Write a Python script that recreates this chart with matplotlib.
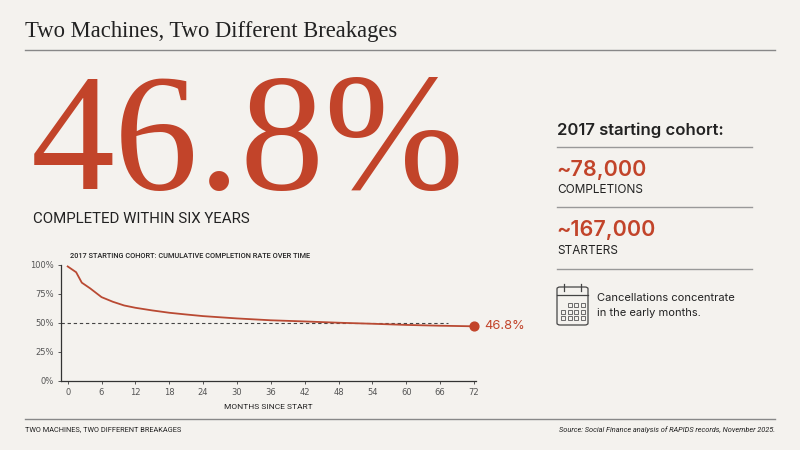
import matplotlib.pyplot as plt
from matplotlib.patches import FancyBboxPatch, Rectangle
from matplotlib.lines import Line2D

months = [0, 1.5, 2.5, 4, 6, 8, 10, 12, 15, 18, 21, 24, 30, 36, 42, 48, 54, 60, 66, 72]
rate = [98.5, 93.5, 84.5, 79.5, 72, 68, 64.8, 62.8, 60.5, 58.5, 57, 55.6, 53.6, 52, 51, 49.9, 49, 48, 47.3, 46.8]
xticks = list(range(0, 73, 6))
yticks = [0, 25, 50, 75, 100]
headline = "46.8%"
completions = "~78,000"
starters = "~167,000"

bg = "#f4f2ee"
red = "#c2442a"
line_red = "#b94a33"
dark = "#222222"
grey = "#555555"

W, H = 800, 450


def px(x, y):
    return x / W, 1 - y / H


fig = plt.figure(figsize=(8, 4.5), dpi=100, facecolor=bg)

# header
fig.text(*px(25, 32), "Two Machines, Two Different Breakages", family="Liberation Serif",
         fontsize=16.3, color=dark, va="center", ha="left")
fig.add_artist(Line2D([25 / W, 775 / W], [1 - 50 / H] * 2, color="#888888", lw=1))

# big number
fig.text(*px(31, 189), headline, family="Liberation Serif", fontsize=121, color=red,
         va="baseline", ha="left")
fig.text(*px(33, 219), "COMPLETED WITHIN SIX YEARS", family="Roboto", fontsize=10.8,
         color=dark, va="center", ha="left")

# right panel
fig.text(*px(557, 130), "2017 starting cohort:", family="Inter", fontsize=12, weight="semibold",
         color=dark, va="center", ha="left")
for yy in [147, 207, 269]:
    fig.add_artist(Line2D([557 / W, 752 / W], [1 - yy / H] * 2, color="#999999", lw=1))
fig.text(*px(556, 170), completions, family="Inter", fontsize=15.5, weight="semibold",
         color=red, va="center", ha="left")
fig.text(*px(557, 190), "COMPLETIONS", family="Inter", fontsize=8.5, color=dark,
         va="center", ha="left")
fig.text(*px(556, 230), starters, family="Inter", fontsize=15.5, weight="semibold",
         color=red, va="center", ha="left")
fig.text(*px(557, 251), "STARTERS", family="Inter", fontsize=8.5, color=dark,
         va="center", ha="left")
fig.text(*px(597, 298), "Cancellations concentrate", family="Inter", fontsize=8,
         color=dark, va="center", ha="left")
fig.text(*px(597, 313), "in the early months.", family="Inter", fontsize=8,
         color=dark, va="center", ha="left")

# calendar icon
x0, y0 = px(557, 325)
x1, y1 = px(588, 287)
fig.add_artist(FancyBboxPatch((x0, y0), x1 - x0, y1 - y0, boxstyle="round,pad=0,rounding_size=0.004",
                              transform=fig.transFigure, fill=False, ec="#444444", lw=0.9))
fig.add_artist(Line2D([x0, x1], [1 - 295 / H] * 2, color="#444444", lw=0.9))
for cx in [564, 581]:
    fig.add_artist(Line2D([cx / W] * 2, [1 - 284 / H, 1 - 291 / H], color="#444444", lw=0.9))
for r in range(3):
    for c in range(4):
        if r == 0 and c == 0:
            continue
        sx, sy = px(561 + c * 6.5, 303 + r * 6.5 + 4)
        fig.add_artist(Rectangle((sx, sy), 4 / W, 4 / H, transform=fig.transFigure,
                                 fill=False, ec="#555555", lw=0.6))

# chart
ax = fig.add_axes([61.3 / W, 1 - 380.5 / H, 414.7 / W, 115.8 / H])
ax.set_facecolor(bg)
ax.plot(months, rate, color=line_red, lw=1.3, zorder=3)
ax.plot([-1.1, 67.4], [50, 50], ls=(0, (3, 2.5)), color="#444444", lw=0.8, zorder=2)
ax.scatter([months[-1]], [rate[-1]], s=40, color=red, zorder=4, clip_on=False)
ax.annotate(headline, (months[-1], rate[-1]), xytext=(7.5, 0), textcoords="offset points",
            color=red, fontsize=9.3, family="Inter", va="center", ha="left", annotation_clip=False)
ax.set_xlim(-1.13, 72.35)
ax.set_ylim(0, 100)
ax.set_xticks(xticks)
ax.set_yticks(yticks)
ax.set_yticklabels([f"{v}%" for v in yticks])
ax.tick_params(labelsize=6, colors=grey, length=2.5, width=0.7, pad=3)
for s in ["top", "right"]:
    ax.spines[s].set_visible(False)
for s in ["left", "bottom"]:
    ax.spines[s].set_color("#333333")
    ax.spines[s].set_linewidth(0.9)
ax.set_xlabel("MONTHS SINCE START", fontsize=6, color=dark, family="Roboto", labelpad=5)
fig.text(*px(70, 256.5), "2017 STARTING COHORT: CUMULATIVE COMPLETION RATE OVER TIME",
         family="Roboto", fontsize=5.3, weight="medium", color=dark, va="center", ha="left")

# footer
fig.add_artist(Line2D([25 / W, 775 / W], [1 - 419 / H] * 2, color="#888888", lw=1))
fig.text(*px(25, 430), "TWO MACHINES, TWO DIFFERENT BREAKAGES", family="Roboto", fontsize=5.3,
         color=dark, va="center", ha="left")
fig.text(*px(775, 430), "Source: Social Finance analysis of RAPIDS records, November 2025.",
         family="Roboto", fontsize=5.3, style="italic", color=dark, va="center", ha="right")

fig.savefig("out.png", dpi=100, facecolor=bg)
